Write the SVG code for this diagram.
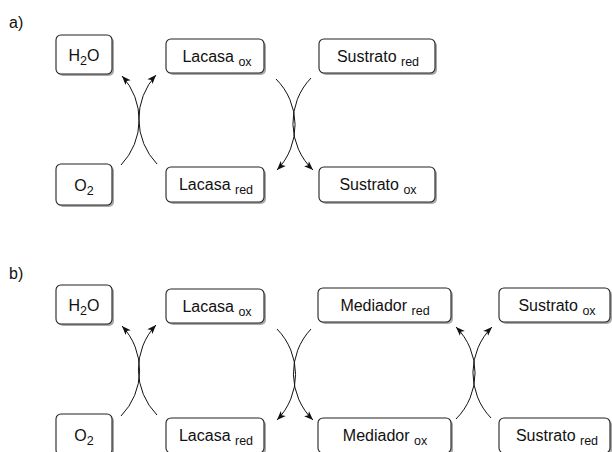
<svg xmlns="http://www.w3.org/2000/svg" width="612" height="452" viewBox="0 0 612 452">
  <style>
    text { font-family: "Liberation Sans", Arial, sans-serif; fill: #111; }
    .lbl { font-size: 16px; }
    .t { font-size: 16px; text-anchor: middle; }
    .sub { font-size: 12.5px; }
    .shadow { fill: #a8a8a8; }
    .box { fill: #fff; stroke: #222; stroke-width: 1.1; }
    .arc { fill: none; stroke: #111; stroke-width: 1; marker-end: url(#head); }
  </style>
  <defs>
    <marker id="head" viewBox="-11 -5 13 10" markerWidth="13" markerHeight="10" refX="0" refY="0" orient="auto" markerUnits="userSpaceOnUse">
      <path d="M0,0 L-9,-3.5 L-6.8,0 L-9,3.5 Z" fill="#111"/>
    </marker>
  </defs>
  <rect width="612" height="452" fill="#fff"/>

  <!-- panel labels -->
  <text class="lbl" x="9" y="28">a)</text>
  <text class="lbl" x="9" y="279">b)</text>

  <!-- panel a: nodes -->
  <g id="a-h2o">
    <rect class="shadow" x="58" y="37" width="56" height="39" rx="5"/>
    <rect class="box" x="56" y="35" width="56" height="39" rx="5"/>
    <text class="t" x="84" y="61">H<tspan class="sub" dy="3.5">2</tspan><tspan dy="-3.5">O</tspan></text>
  </g>
  <g id="a-o2">
    <rect class="shadow" x="58" y="166" width="56" height="41" rx="5"/>
    <rect class="box" x="56" y="164" width="56" height="41" rx="5"/>
    <text class="t" x="84" y="191">O<tspan class="sub" dy="3.5">2</tspan></text>
  </g>
  <g id="a-lacasa-ox">
    <rect class="shadow" x="168" y="41" width="98" height="34" rx="5"/>
    <rect class="box" x="166" y="39" width="98" height="34" rx="5"/>
    <text class="t" x="217" y="62">Lacasa <tspan class="sub" dy="3.5">ox</tspan></text>
  </g>
  <g id="a-lacasa-red">
    <rect class="shadow" x="168" y="169" width="98" height="35" rx="5"/>
    <rect class="box" x="166" y="167" width="98" height="35" rx="5"/>
    <text class="t" x="216" y="190">Lacasa <tspan class="sub" dy="3.5">red</tspan></text>
  </g>
  <g id="a-sustrato-red">
    <rect class="shadow" x="321" y="41" width="116" height="34" rx="5"/>
    <rect class="box" x="319" y="39" width="116" height="34" rx="5"/>
    <text class="t" x="378" y="62">Sustrato <tspan class="sub" dy="3.5">red</tspan></text>
  </g>
  <g id="a-sustrato-ox">
    <rect class="shadow" x="321" y="169" width="116" height="35" rx="5"/>
    <rect class="box" x="319" y="167" width="116" height="35" rx="5"/>
    <text class="t" x="378" y="190">Sustrato <tspan class="sub" dy="3.5">ox</tspan></text>
  </g>

  <!-- panel b: nodes -->
  <g id="b-h2o">
    <rect class="shadow" x="58" y="287" width="56" height="39" rx="5"/>
    <rect class="box" x="56" y="285" width="56" height="39" rx="5"/>
    <text class="t" x="84" y="311">H<tspan class="sub" dy="3.5">2</tspan><tspan dy="-3.5">O</tspan></text>
  </g>
  <g id="b-o2">
    <rect class="shadow" x="58" y="416" width="56" height="41" rx="5"/>
    <rect class="box" x="56" y="414" width="56" height="41" rx="5"/>
    <text class="t" x="84" y="441">O<tspan class="sub" dy="3.5">2</tspan></text>
  </g>
  <g id="b-lacasa-ox">
    <rect class="shadow" x="168" y="291" width="98" height="34" rx="5"/>
    <rect class="box" x="166" y="289" width="98" height="34" rx="5"/>
    <text class="t" x="217" y="312">Lacasa <tspan class="sub" dy="3.5">ox</tspan></text>
  </g>
  <g id="b-lacasa-red">
    <rect class="shadow" x="168" y="420" width="98" height="35" rx="5"/>
    <rect class="box" x="166" y="418" width="98" height="35" rx="5"/>
    <text class="t" x="216" y="441">Lacasa <tspan class="sub" dy="3.5">red</tspan></text>
  </g>
  <g id="b-mediador-red">
    <rect class="shadow" x="320" y="290" width="133" height="34" rx="5"/>
    <rect class="box" x="318" y="288" width="133" height="34" rx="5"/>
    <text class="t" x="385" y="311">Mediador <tspan class="sub" dy="3.5">red</tspan></text>
  </g>
  <g id="b-mediador-ox">
    <rect class="shadow" x="320" y="420" width="133" height="35" rx="5"/>
    <rect class="box" x="318" y="418" width="133" height="35" rx="5"/>
    <text class="t" x="385" y="441">Mediador <tspan class="sub" dy="3.5">ox</tspan></text>
  </g>
  <g id="b-sustrato-ox">
    <rect class="shadow" x="501" y="290" width="111" height="34" rx="5"/>
    <rect class="box" x="499" y="288" width="111" height="34" rx="5"/>
    <text class="t" x="557" y="311">Sustrato <tspan class="sub" dy="3.5">ox</tspan></text>
  </g>
  <g id="b-sustrato-red">
    <rect class="shadow" x="501" y="420" width="111" height="35" rx="5"/>
    <rect class="box" x="499" y="418" width="111" height="35" rx="5"/>
    <text class="t" x="557" y="441">Sustrato <tspan class="sub" dy="3.5">red</tspan></text>
  </g>

  <!-- crossing reaction arcs -->
  <g id="connectors">
    <path class="arc" d="M121,165 A65,65 0 0 0 122,76"/>
    <path class="arc" d="M157,164 A65,65 0 0 1 156,75"/>
    <path class="arc" d="M276,79 A65,65 0 0 1 277,170"/>
    <path class="arc" d="M311,78 A65,65 0 0 0 313,170"/>

    <path class="arc" d="M121,416 A65,65 0 0 0 122,326"/>
    <path class="arc" d="M157,415 A65,65 0 0 1 156,325"/>
    <path class="arc" d="M277,329 A65,65 0 0 1 277,420"/>
    <path class="arc" d="M311,329 A65,65 0 0 0 313,420"/>
    <path class="arc" d="M456,419 A65,65 0 0 0 456,327"/>
    <path class="arc" d="M491,418 A65,65 0 0 1 492,327"/>
  </g>
</svg>
